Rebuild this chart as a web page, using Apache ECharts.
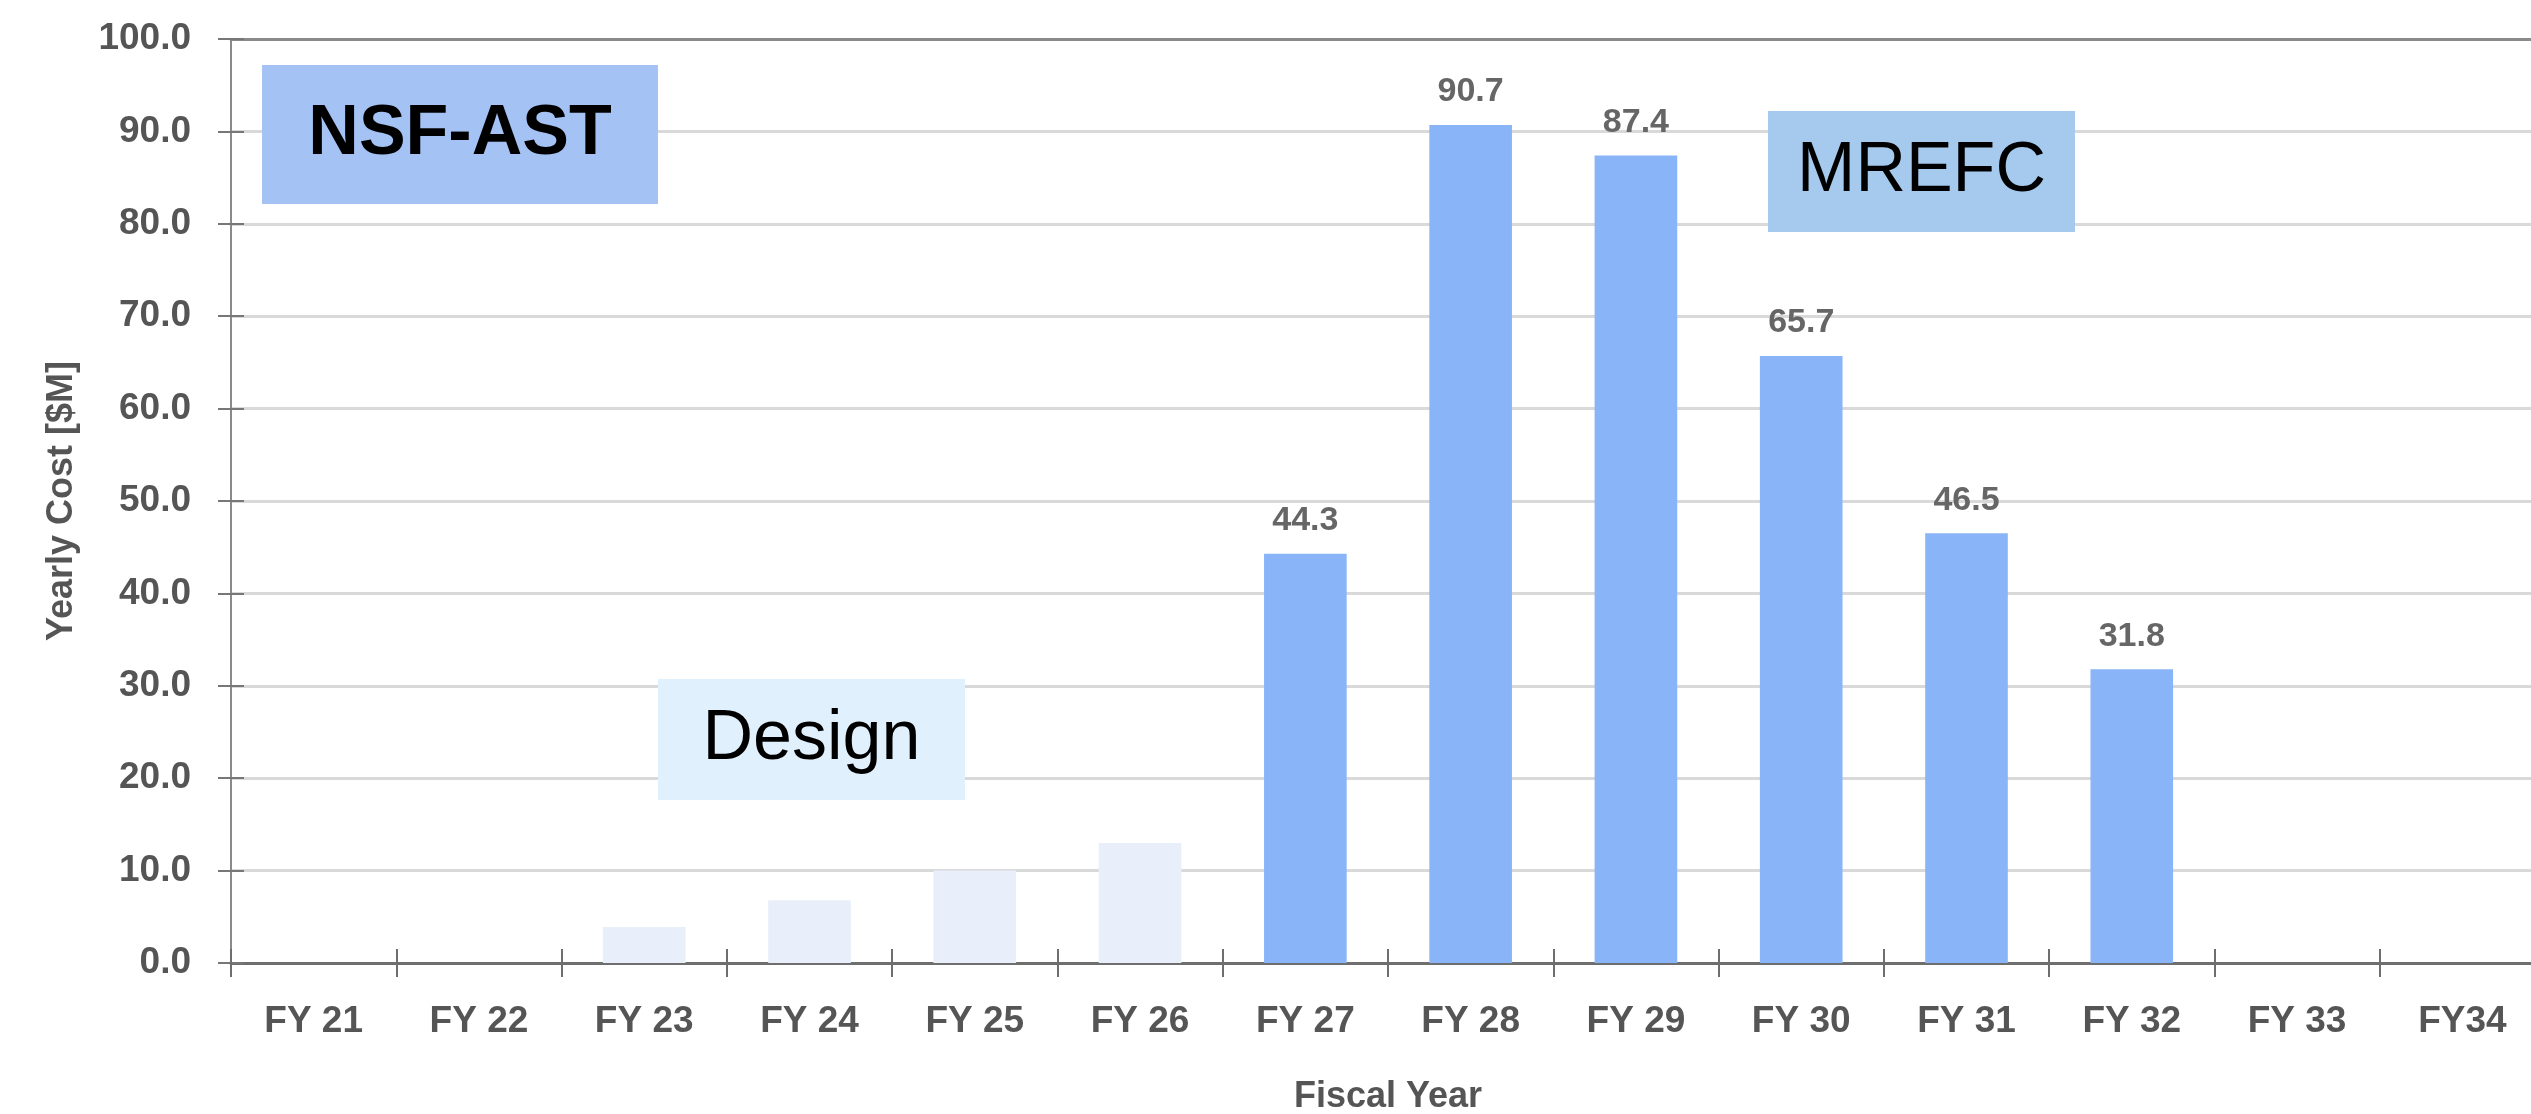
<!DOCTYPE html>
<html>
<head>
<meta charset="utf-8">
<script src="https://cdn.jsdelivr.net/npm/echarts@6/dist/echarts.min.js"></script>
<style>
html,body{margin:0;padding:0;background:#fff;}
#c{width:2531px;height:1114px;}
</style>
</head>
<body>
<div id="c"></div>
<script>
const categories = ['FY 21','FY 22','FY 23','FY 24','FY 25','FY 26','FY 27','FY 28','FY 29','FY 30','FY 31','FY 32','FY 33','FY34'];
const designValues = ['-','-',3.9,6.8,10.0,13.0,'-','-','-','-','-','-','-','-'];
const mrefcValues = ['-','-','-','-','-','-',44.3,90.7,87.4,65.7,46.5,31.8,'-','-'];
const yTicks = [0,10,20,30,40,50,60,70,80,90,100];
const boxLabels = ['NSF-AST','MREFC','Design'];

const FONT = '"Liberation Sans", Arial, sans-serif';
const chart = echarts.init(document.getElementById('c'), null, {renderer:'canvas'});

function box(x, y, w, h, fill, text, bold) {
  return {
    type:'group', x:x, y:y, z:100,
    children:[
      {type:'rect', z:100, shape:{x:0,y:0,width:w,height:h}, style:{fill:fill}},
      {type:'text', z:101, x:w/2, y:h/2, style:{text:text, fill:'#000', font:(bold?'bold ':'')+'70px '+FONT, align:'center', verticalAlign:'middle'}}
    ]
  };
}

chart.setOption({
  backgroundColor:'#ffffff',
  animation:false,
  grid:{left:231, top:39, width:2314, height:924, containLabel:false, outerBoundsMode:'none'},
  xAxis:[{
    type:'category', data:categories, position:'bottom',
    axisLine:{show:true, lineStyle:{color:'#6e6e6e', width:3}},
    axisTick:{show:true, alignWithLabel:false, interval:0, length:14, lineStyle:{color:'#6e6e6e', width:2}},
    axisLabel:{interval:0, margin:40, color:'#555', fontFamily:FONT, fontWeight:'bold', fontSize:37},
    name:'Fiscal Year', nameLocation:'middle', nameGap:116,
    nameTextStyle:{color:'#555', fontFamily:FONT, fontWeight:'bold', fontSize:36},
    splitLine:{show:false}
  },{
    type:'category', data:categories, position:'bottom',
    axisLine:{show:false},
    axisTick:{show:true, inside:true, interval:0, length:14, lineStyle:{color:'#6e6e6e', width:2}},
    axisLabel:{show:false}, splitLine:{show:false}
  },{
    type:'category', data:categories, position:'top',
    axisLine:{show:true, lineStyle:{color:'#8a8a8a', width:3}},
    axisTick:{show:false}, axisLabel:{show:false}, splitLine:{show:false}
  }],
  yAxis:[{
    type:'value', min:yTicks[0], max:yTicks[yTicks.length-1], interval:10,
    axisLine:{show:true, lineStyle:{color:'#8a8a8a', width:2}},
    axisTick:{show:true, length:13, lineStyle:{color:'#777', width:2}},
    axisLabel:{margin:40, color:'#555', fontFamily:FONT, fontWeight:'bold', fontSize:37, formatter:v=>v.toFixed(1)},
    splitLine:{show:true, lineStyle:{color:'#d9d9d9', width:3}},
    name:'Yearly Cost [$M]', nameLocation:'middle', nameGap:151, nameRotate:90,
    nameTextStyle:{color:'#555', fontFamily:FONT, fontWeight:'bold', fontSize:36}
  },{
    type:'value', min:yTicks[0], max:yTicks[yTicks.length-1], interval:10, position:'left',
    axisLine:{show:false}, axisLabel:{show:false}, splitLine:{show:false},
    axisTick:{show:true, inside:true, length:13, lineStyle:{color:'#777', width:2}}
  }],
  series:[{
    name:'Design', type:'bar', data:designValues, barWidth:'50%', barGap:'-100%',
    itemStyle:{color:'#e8effb'}, z:2
  },{
    name:'MREFC', type:'bar', data:mrefcValues, barWidth:'50%', barGap:'-100%',
    itemStyle:{color:'#8ab4f8'}, z:3,
    label:{show:true, position:'top', distance:16, color:'#666', fontFamily:FONT, fontWeight:'bold', fontSize:34, lineHeight:34, formatter:p=>p.value.toFixed(1)}
  }],
  graphic:[
    box(262, 65, 396, 139, '#a4c2f4', boxLabels[0], true),
    box(1768, 111, 307, 121, '#a5caee', boxLabels[1], false),
    box(658, 679, 307, 121, '#e1f0fd', boxLabels[2], false)
  ]
});
</script>
</body>
</html>
